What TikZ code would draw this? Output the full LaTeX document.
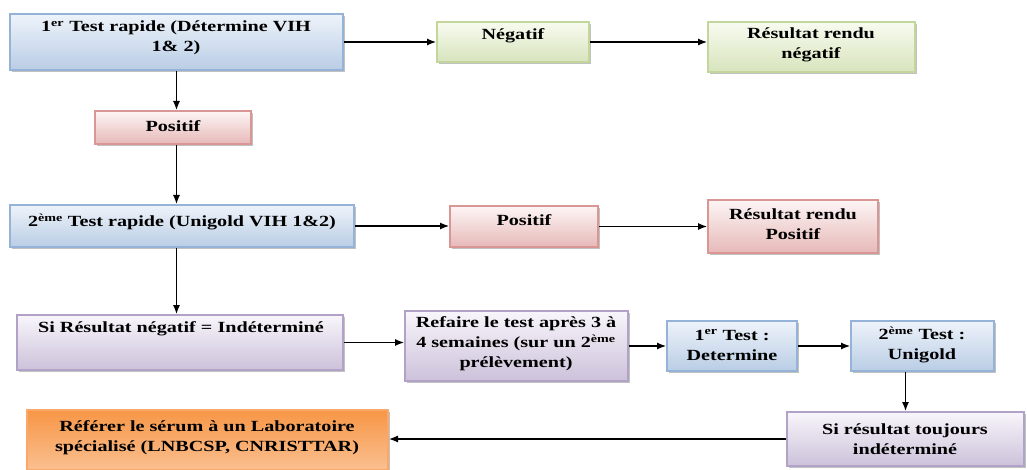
\documentclass[tikz,border=0pt]{standalone}
\usepackage{fontspec}
\setmainfont{Liberation Serif}[FakeStretch=1.3]
\usetikzlibrary{shadows,arrows.meta}
\definecolor{bluebd}{HTML}{95B3D7}
\definecolor{bluetop}{HTML}{EEF3FA}
\definecolor{bluebot}{HTML}{B9CDE5}
\definecolor{greenbd}{HTML}{C3D69B}
\definecolor{greentop}{HTML}{F8FBF0}
\definecolor{greenbot}{HTML}{D7E4BD}
\definecolor{redbd}{HTML}{D99694}
\definecolor{redtop}{HTML}{FDF5F5}
\definecolor{redbot}{HTML}{E6B9B8}
\definecolor{purpbd}{HTML}{B3A2C7}
\definecolor{purptop}{HTML}{F8F6FB}
\definecolor{purpbot}{HTML}{CCC1DA}
\definecolor{orbd}{HTML}{F9A86A}
\definecolor{ortop}{HTML}{F79646}
\definecolor{orbot}{HTML}{FAC090}
\newcommand{\mkbox}[6]{\node[#2, minimum width={#5-#3}, minimum height={#6-#4}] (#1) at ({(#3+#5)/2},{(#4+#6)/2}) {};}
\begin{document}
\begin{tikzpicture}[x=1pt,y=-1pt,
  box/.style={draw, line width=2pt, inner sep=0pt,
    drop shadow={shadow xshift=2pt, shadow yshift=-2pt, opacity=0.35, fill=black!70}},
  bluebox/.style={box, draw=bluebd, top color=bluetop, bottom color=bluebot},
  greenbox/.style={box, draw=greenbd, top color=greentop, bottom color=greenbot},
  redbox/.style={box, draw=redbd, top color=redtop, bottom color=redbot},
  purpbox/.style={box, draw=purpbd, top color=purptop, bottom color=purpbot},
  orbox/.style={box, draw=orbd, top color=ortop, bottom color=orbot},
  txt/.style={font=\fontsize{15.5}{20}\selectfont\bfseries, align=center, inner sep=0pt},
  arr/.style={line width=1.2pt, -{Latex[length=9pt,width=7pt]}}]
\useasboundingbox (0,0) rectangle (1027,470);
\mkbox{b1}{bluebox}{10}{14}{343}{70}
\mkbox{neg}{greenbox}{437}{22}{589}{62}
\mkbox{resneg}{greenbox}{708}{22}{915}{72}
\mkbox{pos1}{redbox}{95}{111}{251}{144}
\mkbox{b2}{bluebox}{10}{205}{354}{247}
\mkbox{pos2}{redbox}{450}{206}{598}{247}
\mkbox{respos}{redbox}{708}{200}{878}{253}
\mkbox{indet}{purpbox}{17}{315}{343}{370}
\mkbox{refaire}{purpbox}{405}{311}{628}{381}
\mkbox{t1}{bluebox}{667}{321}{797}{371}
\mkbox{t2}{bluebox}{851}{321}{994}{371}
\mkbox{siind}{purpbox}{787}{412}{1024}{466}
\mkbox{ref}{orbox}{27}{410}{388}{470}

\node[txt] (b1t) at (176,38) {1\textsuperscript{er} Test rapide (Détermine VIH\\1\& 2)};
\node[txt] (negt) at (513,36) {Négatif};
\node[txt] (resnegt) at (811,45) {Résultat rendu\\négatif};
\node[txt] (pos1t) at (173,126) {Positif};
\node[txt] (b2t) at (182,222) {2\textsuperscript{ème} Test rapide (Unigold VIH 1\&2)};
\node[txt] (pos2t) at (524,220) {Positif};
\node[txt] (respost) at (793,224) {Résultat rendu\\Positif};
\node[txt] (indett) at (181,329) {Si Résultat négatif = Indéterminé};
\node[txt] (refairet) at (516,344) {Refaire le test après 3 à\\4 semaines (sur un 2\textsuperscript{ème}\\prélèvement)};
\node[txt] (t1t) at (732,345) {1\textsuperscript{er} Test :\\Determine};
\node[txt] (t2t) at (922,345) {2\textsuperscript{ème} Test :\\Unigold};
\node[txt] (siindt) at (905,439) {Si résultat toujours\\indéterminé};
\node[txt] (reft) at (207,438) {Référer le sérum à un Laboratoire\\spécialisé (LNBCSP, CNRISTTAR)};

\draw[arr] (b1.east) -- (b1.east -| neg.west);
\draw[arr] (neg.east) -- (neg.east -| resneg.west);
\draw[arr] (b1.south) -- (b1.south |- pos1.north);
\draw[arr] (b1.south |- pos1.south) -- (b1.south |- b2.north);
\draw[arr] (b2.east) -- (b2.east -| pos2.west);
\draw[arr] (pos2.east) -- (pos2.east -| respos.west);
\draw[arr] (b1.south |- b2.south) -- (b1.south |- indet.north);
\draw[arr] (indet.east) -- (indet.east -| refaire.west);
\draw[arr] (refaire.east) -- (refaire.east -| t1.west);
\draw[arr] (t1.east) -- (t1.east -| t2.west);
\draw[arr] (siind.north |- t2.south) -- (siind.north);
\draw[arr] (siind.west) -- (siind.west -| ref.east);
\end{tikzpicture}
\end{document}
